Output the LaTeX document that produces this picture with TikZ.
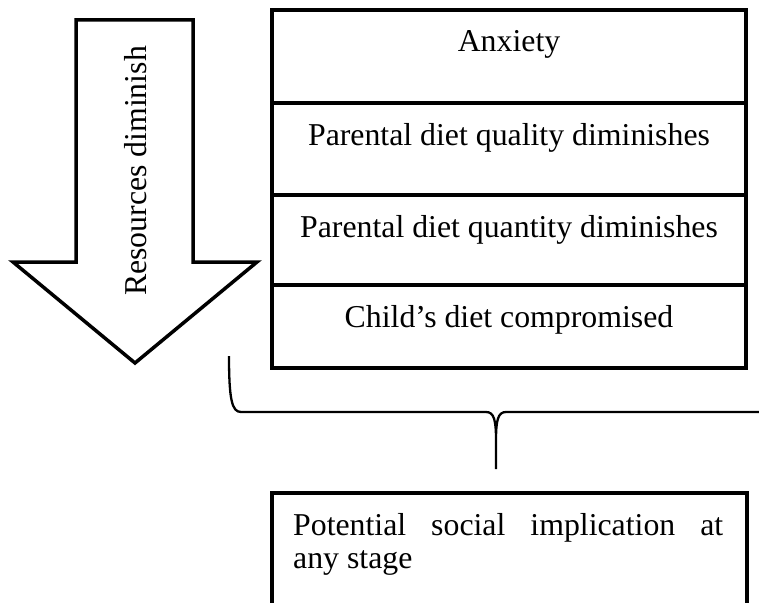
\documentclass[tikz,border=0pt]{standalone}
\usepackage{fontspec}
\setmainfont{Liberation Serif}
\begin{document}
\begin{tikzpicture}[x=1pt,y=-1pt,
  cell/.style={draw, line width=4pt, minimum width=474pt, inner sep=0pt},
  lbl/.style={font=\fontsize{31.8}{34}\selectfont, inner sep=0pt},
  arrowshape/.style={draw, line width=3.5pt, line join=miter},
  bracepath/.style={draw, line width=2.3pt}
]
\useasboundingbox (0,0) rectangle (759,602);
\fill[white] (0,0) rectangle (759,602);
\clip (0,0) rectangle (759,602);

% big down arrow
\draw[arrowshape] (76,20) -- (193,20) -- (193,262) -- (257,262) -- (135,363)
  -- (13,262) -- (76,262) -- cycle;
\node[lbl, rotate=90, anchor=base] (res) at (146,171) {Resources diminish};

% stacked cells
\node[cell, minimum height=93pt] (c1) at (509,56.5) {};
\node[cell, minimum height=92pt] (c2) at (509,149) {};
\node[cell, minimum height=90pt] (c3) at (509,240) {};
\node[cell, minimum height=83pt] (c4) at (509,326.5) {};
\node[lbl, anchor=base] (t1) at (509,52) {Anxiety};
\node[lbl, anchor=base] (t2) at (509,145) {Parental diet quality diminishes};
\node[lbl, anchor=base] (t3) at (509,237) {Parental diet quantity diminishes};
\node[lbl, anchor=base] (t4) at (509,327) {Child’s diet compromised};

% brace
\coordinate (bl) at (229,356);
\coordinate (bc) at (496,469);
\coordinate (br) at (775,412);
\draw[bracepath] (bl) .. controls (229,400) and (232,412) .. (241,412)
  -- (486,412) .. controls (494,412) and (496,420) .. (496,440) -- (bc)
  -- (496,440) .. controls (496,420) and (498,412) .. (506,412) -- (br);

% bottom box
\node[cell, minimum width=475pt, minimum height=127pt] (box) at (509.5,556.5) {};
\node[lbl, anchor=base west] (p1) at (293,535) {\makebox[430pt][s]{Potential social implication at}};
\node[lbl, anchor=base west] (p2) at (293,568) {any stage};
\end{tikzpicture}
\end{document}
